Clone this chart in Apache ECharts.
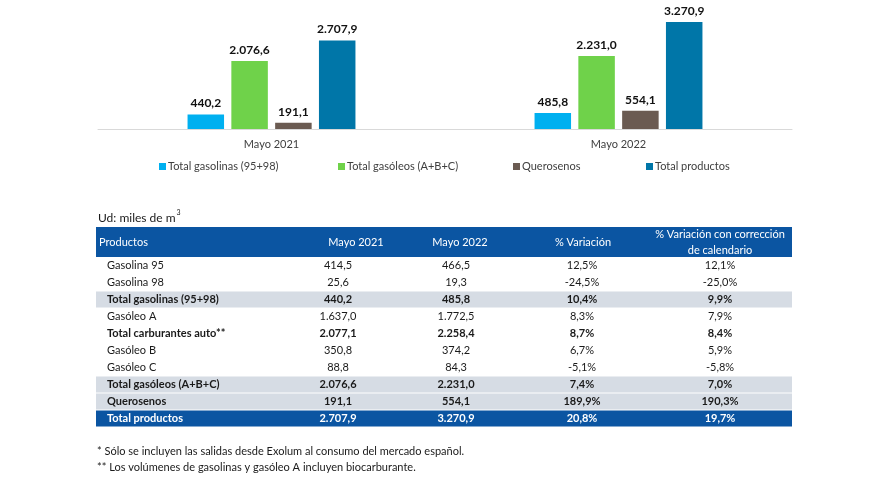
<!DOCTYPE html>
<html>
<head>
<meta charset="utf-8">
<script src="https://cdn.jsdelivr.net/npm/echarts@6/dist/echarts.min.js"></script>
<style>
html,body{margin:0;padding:0;background:#fff;}
#chart{width:875px;height:500px;}
</style>
</head>
<body>
<div id="chart"></div>
<script>
// ---- Chart data ----
const categories = ['Mayo 2021', 'Mayo 2022'];
const seriesNames = ['Total gasolinas (95+98)', 'Total gasóleos (A+B+C)', 'Querosenos', 'Total productos'];
const gasolinas = [440.2, 485.8];
const gasoleos = [2076.6, 2231.0];
const querosenos = [191.1, 554.1];
const totalProductos = [2707.9, 3270.9];
const seriesColors = ['#00b0f0', '#6fd24a', '#6b5b52', '#0076a8'];

// ---- Table data ----
const tableHeaders = ['Productos', 'Mayo 2021', 'Mayo 2022', '% Variación', ['% Variación con corrección', 'de calendario']];
const products = ['Gasolina 95', 'Gasolina 98', 'Total gasolinas (95+98)', 'Gasóleo A', 'Total carburantes auto**', 'Gasóleo B', 'Gasóleo C', 'Total gasóleos (A+B+C)', 'Querosenos', 'Total productos'];
const may2021 = [414.5, 25.6, 440.2, 1637.0, 2077.1, 350.8, 88.8, 2076.6, 191.1, 2707.9];
const may2022 = [466.5, 19.3, 485.8, 1772.5, 2258.4, 374.2, 84.3, 2231.0, 554.1, 3270.9];
const variation = [12.5, -24.5, 10.4, 8.3, 8.7, 6.7, -5.1, 7.4, 189.9, 20.8];
const variationCal = [12.1, -25.0, 9.9, 7.9, 8.4, 5.9, -5.8, 7.0, 190.3, 19.7];
const boldRows = [2, 4, 7, 8, 9];
const greyRows = [2, 7, 8];
const blueRows = [9];
const unitLabel = 'Ud: miles de m';
const unitSup = '3';
const footnotes = ['* Sólo se incluyen las salidas desde Exolum al consumo del mercado español.',
                   '** Los volúmenes de gasolinas y gasóleo A incluyen biocarburante.'];

function fmt(v) {
  const s = Math.abs(v).toFixed(1);
  let [i, d] = s.split('.');
  i = i.replace(/\B(?=(\d{3})+(?!\d))/g, '.');
  return (v < 0 ? '-' : '') + i + ',' + d;
}
function pct(v) { return fmt(v) + '%'; }

const FONT = 'Lato, "Open Sans", sans-serif';
const seriesData = [gasolinas, gasoleos, querosenos, totalProductos];

function measure(text, font) {
  const c = document.createElement('canvas').getContext('2d');
  c.font = font;
  return c.measureText(text).width;
}

// ---- Table graphics ----
const tblLeft = 96, tblRight = 792, headTop = 227, headH = 30, rowH = 17;
const headBlue = '#0b55a2', greyBand = '#d6dce4', txt = '#1a1a1a';
const valX = [338, 456, 582, 720];
const headX = [356, 460, 583, 720];
const g = [];
const unitFont = '12px ' + FONT;
g.push({type:'text', x:98, y:218, style:{text:unitLabel, fill:txt, font:unitFont, textAlign:'left', textVerticalAlign:'middle'}});
g.push({type:'text', x:98 + measure(unitLabel, unitFont) + 1, y:212.5, style:{text:unitSup, fill:txt, font:'7px ' + FONT, textAlign:'left', textVerticalAlign:'middle'}});
g.push({type:'rect', shape:{x:tblLeft, y:headTop, width:tblRight - tblLeft, height:headH}, style:{fill:headBlue}});
g.push({type:'text', x:99, y:headTop + 15, style:{text:tableHeaders[0], fill:'#fff', font:'11px ' + FONT, textAlign:'left', textVerticalAlign:'middle'}});
for (let c = 1; c <= 3; c++) {
  g.push({type:'text', x:headX[c - 1], y:headTop + 15, style:{text:tableHeaders[c], fill:'#fff', font:'11px ' + FONT, textAlign:'center', textVerticalAlign:'middle'}});
}
g.push({type:'text', x:headX[3], y:headTop + 7.5, style:{text:tableHeaders[4][0], fill:'#fff', font:'11px ' + FONT, textAlign:'center', textVerticalAlign:'middle'}});
g.push({type:'text', x:headX[3], y:headTop + 23.5, style:{text:tableHeaders[4][1], fill:'#fff', font:'11px ' + FONT, textAlign:'center', textVerticalAlign:'middle'}});
const rowsTop = headTop + headH;
products.forEach((p, i) => {
  const y0 = rowsTop + i * rowH;
  const isBlue = blueRows.includes(i), isGrey = greyRows.includes(i), isBold = boldRows.includes(i);
  if (isBlue || isGrey) {
    g.push({type:'rect', shape:{x:tblLeft, y:y0 + 0.5, width:tblRight - tblLeft, height:rowH - 1}, style:{fill:isBlue ? headBlue : greyBand}});
  }
  const color = isBlue ? '#fff' : txt;
  const font = (isBold ? 'bold ' : '') + '11px ' + FONT;
  const yc = y0 + rowH / 2;
  g.push({type:'text', x:107, y:yc, style:{text:p, fill:color, font:font, textAlign:'left', textVerticalAlign:'middle'}});
  const vals = [fmt(may2021[i]), fmt(may2022[i]), pct(variation[i]), pct(variationCal[i])];
  vals.forEach((v, c) => {
    g.push({type:'text', x:valX[c], y:yc, style:{text:v, fill:color, font:font, textAlign:'center', textVerticalAlign:'middle'}});
  });
});
footnotes.forEach((f, i) => {
  g.push({type:'text', x:97, y:451 + i * 16, style:{text:f, fill:txt, font:'11px ' + FONT, textAlign:'left', textVerticalAlign:'middle'}});
});

// ---- Legends (one per item for exact placement) ----
const legendLeft = [159, 338, 513, 646];
const legends = seriesNames.map((n, i) => ({
  data: [n], left: legendLeft[i], top: 161, padding: 0,
  icon: 'rect', itemWidth: 7, itemHeight: 7, itemGap: 0,
  textStyle: {fontFamily: FONT, fontSize: 11, color: '#404040', padding: [0, 0, 0, -3]},
  selectedMode: false
}));

const chart = echarts.init(document.getElementById('chart'), null, {renderer: 'canvas'});
chart.setOption({
  animation: false,
  backgroundColor: '#fff',
  textStyle: {fontFamily: FONT},
  grid: {left: 98, width: 694, top: 14.5, height: 114.5, containLabel: false},
  legend: legends,
  xAxis: {
    type: 'category', data: categories,
    axisLine: {lineStyle: {color: '#d9d9d9', width: 1}},
    axisTick: {show: false},
    axisLabel: {fontFamily: FONT, fontSize: 11, color: '#404040', margin: 10}
  },
  yAxis: {type: 'value', min: 0, max: 3500, show: false, splitLine: {show: false}},
  series: seriesNames.map((n, i) => ({
    name: n, type: 'bar', data: seriesData[i],
    barWidth: 36.5, barGap: '20%',
    itemStyle: {color: seriesColors[i]},
    label: {show: true, position: 'top', distance: 5, fontFamily: FONT, fontSize: 12, fontWeight: 'bold', color: '#111',
            formatter: p => fmt(p.value)}
  })),
  graphic: g
});
</script>
</body>
</html>
